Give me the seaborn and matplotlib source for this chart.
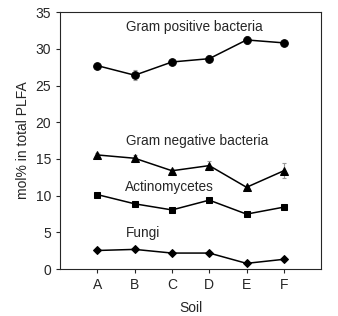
import numpy as np
import pandas as pd
import matplotlib
matplotlib.use("Agg")
import matplotlib.pyplot as plt
import seaborn as sns

soils = ["A", "B", "C", "D", "E", "F"]
gram_pos = [27.7, 26.4, 28.2, 28.65, 31.2, 30.8]
gram_pos_err = [0.3, 0.7, 0.3, 0.5, 0.5, 0.3]
gram_neg = [15.55, 15.1, 13.4, 14.1, 11.15, 13.4]
gram_neg_err = [0.2, 0.5, 0.2, 0.6, 0.2, 1.0]
actino = [10.15, 8.9, 8.07, 9.4, 7.5, 8.45]
actino_err = [0.2, 0.2, 0.2, 0.2, 0.2, 0.2]
fungi = [2.55, 2.7, 2.2, 2.2, 0.8, 1.35]
fungi_err = [0.2, 0.2, 0.15, 0.15, 0.15, 0.2]

groups = ["Gram positive bacteria", "Gram negative bacteria", "Actinomycetes", "Fungi"]
markers = {"Gram positive bacteria": "o", "Gram negative bacteria": "^",
           "Actinomycetes": "s", "Fungi": "D"}
msizes = {"Gram positive bacteria": 5.5, "Gram negative bacteria": 6,
          "Actinomycetes": 5, "Fungi": 4.5}
label_pos = {"Gram positive bacteria": (3.6, 33.0), "Gram negative bacteria": (3.68, 17.4),
             "Actinomycetes": (2.93, 11.15), "Fungi": (2.23, 4.9)}

values = [gram_pos, gram_neg, actino, fungi]
errors = [gram_pos_err, gram_neg_err, actino_err, fungi_err]

rows = []
for g, v, e in zip(groups, values, errors):
    for i, s in enumerate(soils):
        rows.append({"group": g, "x": i + 1, "soil": s, "value": v[i], "err": e[i]})
df = pd.DataFrame(rows)

sns.set_style("ticks")
plt.rcParams["font.family"] = ["Liberation Sans", "DejaVu Sans"]

fig, ax = plt.subplots(figsize=(3.38, 3.16), dpi=100)
fig.subplots_adjust(left=0.178, right=0.95, top=0.962, bottom=0.148)

for g in groups:
    d = df[df["group"] == g]
    ax.errorbar(d["x"], d["value"], yerr=d["err"], fmt="none", ecolor="#999999",
                elinewidth=0.8, capsize=1.5, capthick=0.8, zorder=1)
    sns.lineplot(data=d, x="x", y="value", ax=ax, color="black", lw=1.1,
                 marker=markers[g], markersize=msizes[g], markeredgecolor="black",
                 zorder=2)
    tx, ty = label_pos[g]
    ax.text(tx, ty, g, ha="center", va="center", fontsize=9.8)

ax.set_xlim(0, 7)
ax.set_ylim(0, 35)
ax.set_xticks(range(1, 7))
ax.set_xticklabels(soils)
ax.set_yticks(range(0, 36, 5))
ax.tick_params(labelsize=10, length=3, width=0.8, direction="out")
ax.set_xlabel("Soil", fontsize=10, labelpad=6)
ax.set_ylabel("mol% in total PLFA", fontsize=10, labelpad=4)
for sp in ax.spines.values():
    sp.set_linewidth(0.8)
    sp.set_visible(True)

fig.savefig("out.png", dpi=100)
